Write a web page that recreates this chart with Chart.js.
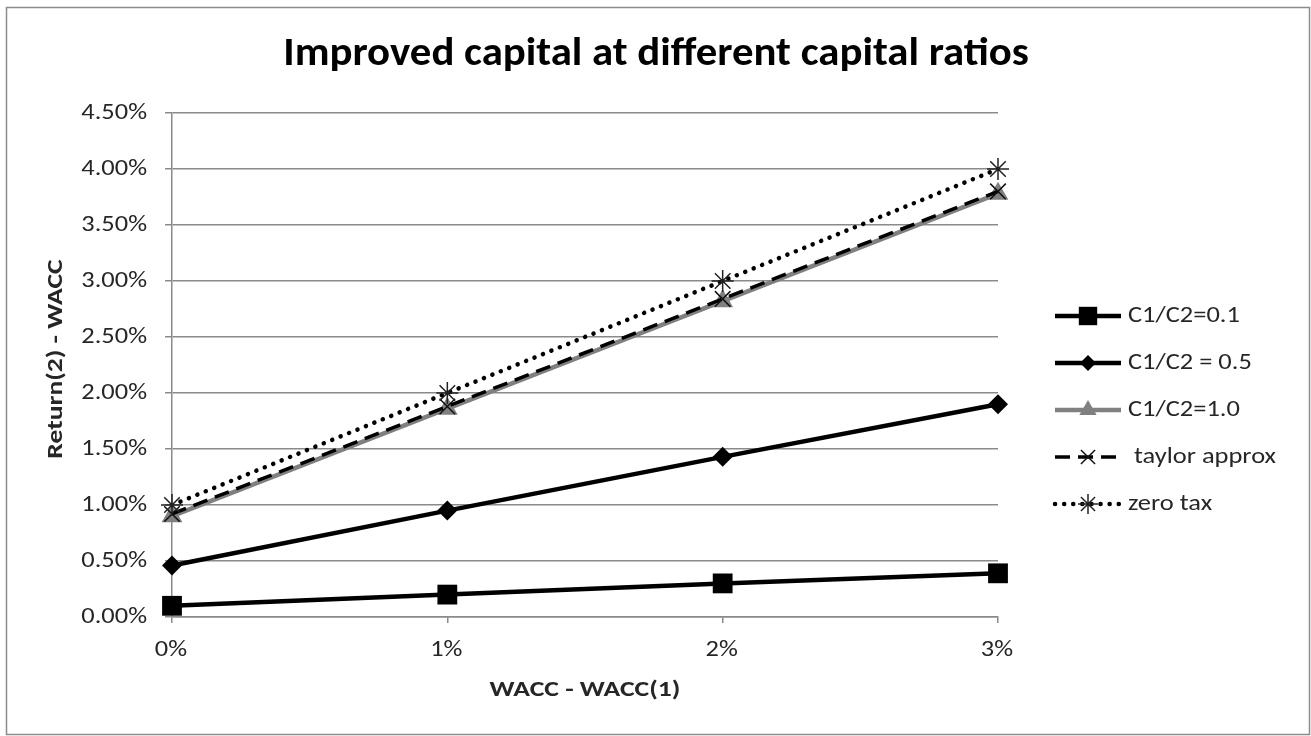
<!DOCTYPE html>
<html>
<head>
<meta charset="utf-8">
<script src="https://cdn.jsdelivr.net/npm/chart.js@4.4.1/dist/chart.umd.min.js"></script>
<style>
  html, body { margin: 0; padding: 0; background: #ffffff; }
  #wrap { width: 1311px; height: 736px; position: relative; }
  canvas { display: block; }
</style>
</head>
<body>
<div id="wrap"><canvas id="chart" width="1311" height="736"></canvas></div>
<script>
// Return(2) - WACC, in percent, against WACC - WACC(1)
const categories = ['0%', '1%', '2%', '3%'];
const ratio01 = [0.10, 0.20, 0.30, 0.39];
const ratio05 = [0.46, 0.95, 1.43, 1.90];
const ratio10 = [0.90, 1.86, 2.82, 3.78];
const taylorApprox = [0.92, 1.88, 2.84, 3.80];
const zeroTax = [1.00, 2.00, 3.00, 4.00];
const seriesNames = ['C1/C2=0.1', 'C1/C2 = 0.5', 'C1/C2=1.0', ' taylor approx', 'zero tax'];
const yTicks = [0, 0.5, 1, 1.5, 2, 2.5, 3, 3.5, 4, 4.5];

const chartTitle = 'Improved capital at different capital ratios';
const xTitle = 'WACC - WACC(1)';
const yTitle = 'Return(2) - WACC';

const FONT = "Carlito, Calibri, 'Open Sans', sans-serif";
const GRID = '#8a8a8a';
const TEXT = '#262626';
const WIDEN = 1.2; // horizontal widening of the label face

const datasets = [
  { label: seriesNames[0], data: ratio01, borderColor: '#000', backgroundColor: '#000',
    borderWidth: 4.5, pointStyle: 'rect', pointRadius: 14, pointBorderWidth: 0, order: 2,
    legendRadius: 13 },
  { label: seriesNames[1], data: ratio05, borderColor: '#000', backgroundColor: '#000',
    borderWidth: 4.5, pointStyle: 'rectRot', pointRadius: 10, pointBorderWidth: 0, order: 2,
    legendRadius: 8 },
  { label: seriesNames[2], data: ratio10, borderColor: '#808080', backgroundColor: '#808080',
    borderWidth: 4.5, pointStyle: 'triangle', pointRadius: 12, pointBorderWidth: 0, order: 3,
    legendRadius: 10 },
  { label: seriesNames[3], data: taylorApprox, borderColor: '#000', backgroundColor: '#000',
    borderWidth: 3.5, borderDash: [15, 8], pointStyle: 'crossRot', pointRadius: 11,
    pointBorderWidth: 1.5, pointBorderColor: '#111', order: 1, legendRadius: 10 },
  { label: seriesNames[4], data: zeroTax, borderColor: '#000', backgroundColor: '#000',
    borderWidth: 4.5, borderDash: [0.1, 9], borderCapStyle: 'round', pointStyle: 'star',
    pointRadius: 11, pointBorderWidth: 1.5, pointBorderColor: '#222', order: 0, legendRadius: 10 }
];

// text drawn with a horizontal widening factor
function wideText(ctx, text, x, y, align, sx, angle) {
  ctx.save();
  ctx.translate(x, y);
  if (angle) ctx.rotate(angle);
  ctx.scale(sx, 1);
  ctx.textAlign = align;
  ctx.textBaseline = 'middle';
  ctx.fillText(text, 0, 0);
  ctx.restore();
}

// Outer frame, tick labels, titles and the legend at the right
const decorations = {
  id: 'decorations',
  beforeDraw(chart) {
    const ctx = chart.ctx;
    ctx.save();
    ctx.fillStyle = '#fff';
    ctx.fillRect(0, 0, chart.width, chart.height);
    ctx.strokeStyle = '#8c8c8c';
    ctx.lineWidth = 1.5;
    ctx.strokeRect(6.5, 7.5, 1303, 727);
    ctx.restore();
  },
  afterDraw(chart) {
    const ctx = chart.ctx;
    const xs = chart.scales.x, ys = chart.scales.y;
    ctx.save();

    // tick labels placed by the scales
    ctx.fillStyle = TEXT;
    ctx.font = `22px ${FONT}`;
    ys.ticks.forEach((t, i) => {
      wideText(ctx, Number(t.value).toFixed(2) + '%', xs.left - 25, ys.getPixelForTick(i), 'right', WIDEN);
    });
    categories.forEach((c, i) => {
      wideText(ctx, c, xs.getPixelForTick(i) - 1, ys.bottom + 33, 'center', WIDEN);
    });

    // chart title
    ctx.fillStyle = '#000';
    ctx.font = `bold 40px ${FONT}`;
    wideText(ctx, chartTitle, 656, 55, 'center', 1.07);

    // axis titles
    ctx.fillStyle = TEXT;
    ctx.font = `bold 23px ${FONT}`;
    wideText(ctx, xTitle, 585, 690, 'center', WIDEN);
    wideText(ctx, yTitle, 56, 359, 'center', WIDEN, -Math.PI / 2);

    // legend
    const x0 = 1055, x1 = 1121, yStart = 316, step = 47;
    chart.data.datasets.forEach((ds, i) => {
      const y = yStart + i * step;
      ctx.save();
      ctx.strokeStyle = ds.borderColor;
      ctx.lineWidth = ds.borderWidth;
      ctx.lineCap = ds.borderCapStyle || 'butt';
      ctx.setLineDash(ds.borderDash || []);
      ctx.beginPath();
      ctx.moveTo(x0, y);
      ctx.lineTo(x1, y);
      ctx.stroke();
      ctx.restore();
      ctx.save();
      ctx.fillStyle = ds.backgroundColor;
      ctx.strokeStyle = ds.pointBorderColor || ds.borderColor;
      ctx.lineWidth = ds.pointBorderWidth || 1;
      Chart.helpers.drawPoint(ctx, { pointStyle: ds.pointStyle, radius: ds.legendRadius,
        borderWidth: ds.pointBorderWidth, rotation: 0 }, (x0 + x1) / 2, y);
      ctx.restore();
      ctx.fillStyle = TEXT;
      ctx.font = `23px ${FONT}`;
      wideText(ctx, ds.label, 1128, y, 'left', 1.15);
    });
    ctx.restore();
  }
};

new Chart(document.getElementById('chart'), {
  type: 'line',
  data: { labels: categories, datasets },
  options: {
    responsive: false,
    animation: false,
    events: [],
    layout: { padding: { left: 20, right: 313, top: 113, bottom: 0 } },
    plugins: { legend: { display: false }, title: { display: false }, tooltip: { enabled: false } },
    elements: { line: { tension: 0 } },
    scales: {
      x: {
        type: 'category',
        offset: false,
        grid: { drawOnChartArea: false, drawTicks: true, tickLength: 6, color: GRID, lineWidth: 1.5 },
        border: { display: true, color: GRID, width: 1.5 },
        ticks: { display: false },
        afterFit(scale) { scale.height = 119; }
      },
      y: {
        min: 0, max: 4.5,
        afterBuildTicks(scale) { scale.ticks = yTicks.map(v => ({ value: v })); },
        grid: { color: GRID, lineWidth: 1.5, drawTicks: true, tickLength: 7 },
        border: { display: true, color: GRID, width: 1.5 },
        ticks: { display: false },
        afterFit(scale) { scale.width = 152; }
      }
    }
  },
  plugins: [decorations]
});
</script>
</body>
</html>
